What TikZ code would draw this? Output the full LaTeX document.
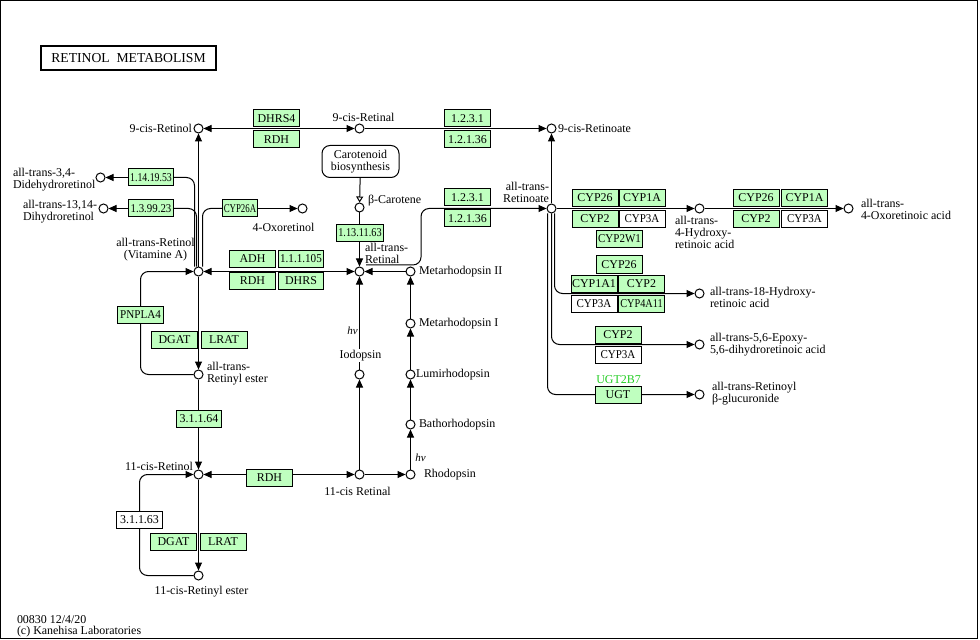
\documentclass[tikz,border=0pt]{standalone}
\usepackage{fontspec}
\usepackage{graphicx}
\setmainfont{Liberation Serif}
\usetikzlibrary{arrows.meta, positioning}
\definecolor{kgreen}{HTML}{BFFFBF}
\definecolor{kname}{HTML}{22CC22}
\newcommand{\sqz}[2]{\scalebox{#1}[1]{#2}}
\pgfdeclarelayer{bg}
\pgfsetlayers{bg,main}
\tikzset{
	cpd/.style={circle, draw, fill=white, minimum size=9bp, inner sep=0pt},
	enz/.style={draw, fill=kgreen, minimum width=46bp, minimum height=17bp, inner sep=0pt, font=\fontsize{12}{12}\selectfont},
	enzw/.style={enz, fill=white},
	lbl/.style={inner sep=0pt, font=\fontsize{12}{12}\selectfont},
	hv/.style={inner sep=0pt, font=\fontsize{11}{11}\selectfont\itshape},
	rxn/.style={-{Triangle[length=8bp,width=7bp]}},
	rev/.style={{Triangle[length=8bp,width=7bp]}-{Triangle[length=8bp,width=7bp]}},
	elbow/.style={rounded corners=8bp},
}

\begin{document}
\begin{tikzpicture}[x=1bp, y=-1bp, line width=1bp]
	\useasboundingbox (0,0) rectangle (980,640);
	\draw (0.5,0.5) rectangle (977.5,638.5);
	\begin{scope}[shift={(0.5,0.5)}]
	\node[draw, line width=2bp, minimum width=174bp, minimum height=24bp, font=\fontsize{13.7}{13.7}\selectfont] (title) at (128,58) {RETINOL\ \ METABOLISM};

	% compounds
	\node[cpd] (c9Rol) at (198,128) {};
	\node[cpd] (c9Ral) at (359,128) {};
	\node[cpd] (c9Roate) at (551,128) {};
	\node[cpd] (ddRol) at (100,177) {};
	\node[cpd] (dhRol) at (103,208) {};
	\node[cpd] (oxRol) at (302,208) {};
	\node[cpd] (atRol) at (198,271) {};
	\node[cpd] (atRal) at (359,271) {};
	\node[cpd] (bcar) at (359,207) {};
	\node[cpd] (meta2) at (410,271) {};
	\node[cpd] (meta1) at (410,323) {};
	\node[cpd] (lumi) at (410,374) {};
	\node[cpd] (batho) at (410,424) {};
	\node[cpd] (rhodo) at (410,474) {};
	\node[cpd] (iodo) at (359,374) {};
	\node[cpd] (cRal) at (359,474) {};
	\node[cpd] (cRol) at (198,474) {};
	\node[cpd] (atRE) at (198,374) {};
	\node[cpd] (cRE) at (198,575) {};
	\node[cpd] (atRoate) at (551,208) {};
	\node[cpd] (oh4) at (699,208) {};
	\node[cpd] (oxo4) at (848,208) {};
	\node[cpd] (oh18) at (699,293) {};
	\node[cpd] (epo) at (699,344) {};
	\node[cpd] (glu) at (699,394) {};

	% compound names
	\node[lbl, left=1bp of c9Rol] (c9RolL) {9-cis-Retinol};
	\node[lbl] (c9RalL) at (363,117) {9-cis-Retinal};
	\node[lbl, right=1bp of c9Roate] (c9RoateL) {9-cis-Retinoate};
	\node[lbl, align=left, anchor=west] (ddRolL) at (12,179) {all-trans-3,4-\\Didehydroretinol};
	\node[lbl, align=left, anchor=west] (dhRolL) at (22,211) {all-trans-13,14-\\Dihydroretinol};
	\node[lbl] (oxRolL) at (283,227) {4-Oxoretinol};
	\node[lbl, align=center] (atRolL) at (155,249) {all-trans-Retinol\\(Vitamine A)};
	\node[lbl, align=left, anchor=west] (atRalL) at (364,253) {all-trans-\\Retinal};
	\node[lbl, anchor=west] (bcarL) at (367,200) {β-Carotene};
	\node[lbl, right=3bp of meta2] (meta2L) {Metarhodopsin II};
	\node[lbl, right=3bp of meta1] (meta1L) {Metarhodopsin I};
	\node[lbl, right=0bp of lumi] (lumiL) {Lumirhodopsin};
	\node[lbl, right=3bp of batho] (bathoL) {Bathorhodopsin};
	\node[lbl, right=8bp of rhodo] (rhodoL) {Rhodopsin};
	\node[hv] (hvR) at (420,457) {hv};
	\node[hv] (hvI) at (352,330) {hv};
	\node[lbl, fill=white, inner sep=1bp] (iodoL) at (360,355) {Iodopsin};
	\node[lbl] (cRalL) at (357,491) {11-cis Retinal};
	\node[lbl, anchor=east] (cRolL) at (193,466) {11-cis-Retinol};
	\node[lbl] (cREL) at (201,591) {11-cis-Retinyl ester};
	\node[lbl, align=left, anchor=west] (atREL) at (206,373) {all-trans-\\Retinyl ester};
	\node[lbl, align=right, anchor=east] (atRoateL) at (549,192) {all-trans-\\Retinoate};
	\node[lbl, align=left, anchor=west] (oh4L) at (674,232) {all-trans-\\4-Hydroxy-\\retinoic acid};
	\node[lbl, align=left, anchor=west] (oxo4L) at (860,209) {all-trans-\\4-Oxoretinoic acid};
	\node[lbl, align=left, anchor=west] (oh18L) at (709,297) {all-trans-18-Hydroxy-\\retinoic acid};
	\node[lbl, align=left, anchor=west] (epoL) at (709,344) {all-trans-5,6-Epoxy-\\5,6-dihydroretinoic acid};
	\node[lbl, align=left, anchor=west] (gluL) at (711,393) {all-trans-Retinoyl\\β-glucuronide};
	\node[draw, rounded corners=8bp, minimum width=77bp, minimum height=32bp, inner sep=0pt, align=center, font=\fontsize{12}{12}\selectfont] (caro) at (360,161) {Carotenoid\\biosynthesis};

	% enzymes
	\node[enz] (dhrs4) at (276,118) {DHRS4};
	\node[enz] (rdh1) at (276,139) {RDH};
	\node[enz] (ald1) at (467,118) {1.2.3.1};
	\node[enz] (ald2) at (467,139) {1.2.1.36};
	\node[enz, minimum width=45bp] (ec11419) at (150.5,177) {\sqz{0.82}{1.14.19.53}};
	\node[enz, minimum width=45bp] (ec13999) at (150.5,208) {\sqz{0.91}{1.3.99.23}};
	\node[enz, minimum width=35bp] (cyp26a) at (239.5,208) {\sqz{0.74}{CYP26A}};
	\node[enz, minimum width=47bp] (ec11311) at (359.5,232.5) {\sqz{0.86}{1.13.11.63}};
	\node[enz] (adh) at (252,258.5) {ADH};
	\node[enz, minimum width=45bp] (ec111105) at (300.5,258.5) {\sqz{0.93}{1.1.1.105}};
	\node[enz] (rdh2) at (252,280.5) {RDH};
	\node[enz, minimum width=45bp] (dhrs) at (300.5,280.5) {DHRS};
	\node[enz] (ald3) at (467,197) {1.2.3.1};
	\node[enz] (ald4) at (467,218) {1.2.1.36};
	\node[enz] (pnpla4) at (140,314.5) {\sqz{0.93}{PNPLA4}};
	\node[enz] (dgat1) at (174,339.5) {DGAT};
	\node[enz] (lrat1) at (223.5,339.5) {LRAT};
	\node[enz, minimum width=45bp] (ec31164) at (198.5,418.5) {3.1.1.64};
	\node[enz] (rdh3) at (269,477.5) {RDH};
	\node[enzw] (ec31163) at (139,519.5) {3.1.1.63};
	\node[enz] (dgat2) at (173,541) {DGAT};
	\node[enz] (lrat2) at (222.5,541) {LRAT};
	\node[enz] (cyp26x) at (594.5,197.5) {CYP26};
	\node[enz] (cyp1ax) at (641.5,197.5) {CYP1A};
	\node[enz] (cyp2x) at (594.5,218.5) {CYP2};
	\node[enzw] (cyp3ax) at (641.5,218.5) {\sqz{0.92}{CYP3A}};
	\node[enz] (cyp2w1) at (619,238.5) {\sqz{0.92}{CYP2W1}};
	\node[enz] (cyp26y) at (755.5,197.5) {CYP26};
	\node[enz] (cyp1ay) at (804,197.5) {CYP1A};
	\node[enz] (cyp2y) at (755.5,218.5) {CYP2};
	\node[enzw] (cyp3ay) at (804,218.5) {\sqz{0.92}{CYP3A}};
	\node[enz] (cyp26z) at (618.5,264) {CYP26};
	\node[enz] (cyp1a1) at (593.5,283) {CYP1A1};
	\node[enz] (cyp2z) at (641,283) {CYP2};
	\node[enzw] (cyp3az) at (593.5,303.5) {\sqz{0.92}{CYP3A}};
	\node[enz] (cyp4a11) at (641,303.5) {\sqz{0.86}{CYP4A11}};
	\node[enz] (cyp2e) at (617.5,334) {CYP2};
	\node[enzw] (cyp3ae) at (617.5,354.5) {\sqz{0.92}{CYP3A}};
	\node[enz] (ugt) at (617.5,394.5) {UGT};
	\node[lbl, text=kname] (ugt2b7) at (618,379) {UGT2B7};

	\node[lbl, align=left, anchor=west, font=\fontsize{12}{11}\selectfont] (credit) at (16,626) {00830 12/4/20\\(c) Kanehisa Laboratories};

	\begin{pgfonlayer}{bg}
	\begin{scope}[line width=1bp]
		\draw[rev] (c9Rol) -- (c9Ral);
		\draw[rxn] (c9Ral) -- (c9Roate);
		\draw[rxn] (atRol) -- (c9Rol);
		\draw[rev] (atRol) -- (atRal);
		\draw[rxn] (atRol) -- (atRE);
		\draw[rxn] (atRE) -- (cRol);
		\draw[rxn] (cRol) -- (cRE);
		\draw[rev] (cRol) -- (cRal);
		\draw[rxn] (cRal) -- (iodo);
		\draw[rxn] (cRal) -- (rhodo);
		\draw[rxn] (iodo) -- (atRal);
		\draw[rxn] (rhodo) -- (batho);
		\draw[rxn] (batho) -- (lumi);
		\draw[rxn] (lumi) -- (meta1);
		\draw[rxn] (meta1) -- (meta2);
		\draw[rxn] (meta2) -- (atRal);
		\draw[rxn] (bcar) -- (atRal);
		\draw[-{Triangle[open,length=6bp,width=7bp]}] (caro) -- (bcar);
		\draw[rxn] (atRoate) -- (c9Roate);
		\draw[rxn] (atRoate) -- (oh4);
		\draw[rxn] (oh4) -- (oxo4);
		\draw[rxn] (ec11419) -- (ddRol);
		\draw[rxn] (ec13999) -- (dhRol);
		\draw[rxn] (cyp26a) -- (oxRol);
		\draw[elbow] ([xshift=-4bp]atRol.north) |- (ec11419);
		\draw[elbow] ([xshift=-2bp]atRol.north) |- (ec13999);
		\draw[elbow] ([xshift=4bp]atRol.north) |- (cyp26a);
		\draw[rxn, elbow] (atRE) -| (pnpla4.center) |- (atRol);
		\draw[rxn, elbow] (cRE) -| (ec31163.center) |- (cRol);
		\draw[rxn, elbow] ([shift={(3,-3)}]atRal.north east) -- ++(55,0) |- (atRoate);
		\draw[rxn, elbow] ([xshift=3bp]atRoate.south) |- (oh18);
		\draw[rxn, elbow] (atRoate.south) |- (epo);
		\draw[rxn, elbow] ([xshift=-4bp]atRoate.south) |- (glu);
	\end{scope}
	\end{pgfonlayer}
	\end{scope}
\end{tikzpicture}
\end{document}
